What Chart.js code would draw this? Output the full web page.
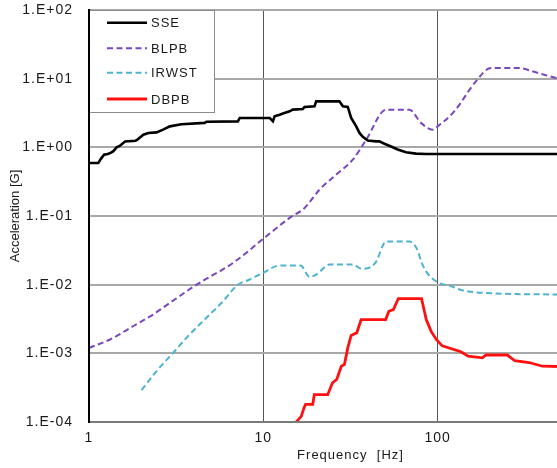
<!DOCTYPE html>
<html>
<head>
<meta charset="utf-8">
<script src="https://cdn.jsdelivr.net/npm/chart.js@4/dist/chart.umd.min.js"></script>
<style>
html,body{margin:0;padding:0;overflow:hidden;background:#fff;}
canvas{display:block;}
</style>
</head>
<body>
<canvas id="c" width="640" height="468"></canvas>
<script>
// ---- data ----
const seriesNames = ['SSE', 'BLPB', 'IRWST', 'DBPB'];

const sseFreq = [1.0,1.13,1.17,1.22,1.28,1.33,1.38,1.44,1.50,1.61,1.85,1.90,2.05,2.19,2.44,2.66,2.91,3.39,4.61,4.72,7.15,7.32,9.95,10.87,11.35,11.6,12.4,13.2,14.15,14.77,16.85,17.24,19.66,20.1,27.3,28.6,30.5,31.9,34.1,35.6,37.2,39.7,44.4,46.3,49.5,54.0,59.0,65.8,75.1,85.7,97.8,500];
const sseAcc  = [0.59,0.59,0.68,0.78,0.80,0.83,0.88,1.00,1.05,1.22,1.25,1.30,1.53,1.62,1.65,1.81,2.02,2.17,2.27,2.36,2.39,2.68,2.68,2.68,2.39,2.83,2.99,3.17,3.34,3.54,3.62,3.87,3.95,4.67,4.67,3.95,3.87,2.68,2.02,1.62,1.42,1.26,1.22,1.22,1.13,1.03,0.93,0.85,0.81,0.80,0.80,0.80];

const blpbFreq = [1.0,1.32,1.79,2.33,2.91,4.14,6.70,10.4,14.15,17.24,21.0,26.2,32.6,38.9,50.6,68.8,80.2,93.5,99.9,124.5,165.7,202,293,349,477,500];
const blpbAcc  = [1.2e-3,1.59e-3,2.48e-3,3.67e-3,5.43e-3,1.0e-2,2.07e-2,5.07e-2,9.38e-2,0.131,0.242,0.401,0.662,1.29,3.54,3.54,2.27,1.81,2.02,3.34,9.14,14.3,14.3,12.8,10.2,9.9];

const irwstFreq = [2.0,2.44,3.04,3.62,4.72,5.75,7.15,8.35,9.95,12.4,16.35,18.41,20.1,23.96,32.6,36.8,43.9,50.6,68.8,76.4,80.5,86.0,93.2,102,116.5,136.5,189.8,500];
const irwstAcc  = [2.9e-4,5.5e-4,1.02e-3,1.68e-3,3.3e-3,5.4e-3,1.0e-2,1.19e-2,1.49e-2,1.9e-2,1.9e-2,1.3e-2,1.4e-2,1.96e-2,1.96e-2,1.7e-2,2.07e-2,4.24e-2,4.24e-2,3.24e-2,2.17e-2,1.55e-2,1.23e-2,1.055e-2,9.7e-3,8.34e-3,7.55e-3,7.18e-3];

const dbpbFreq = [15.45,16.5,17.1,17.47,19.2,19.6,23.4,24.9,26.4,28.0,29.2,30.5,31.9,34.35,36.4,50.3,52.5,55.7,59.5,80.8,86.0,91.9,98.2,106.2,135.9,149.6,180.7,189,251,277,334,398.7,500];
const dbpbAcc  = [1.0e-4,1.21e-4,1.6e-4,1.8e-4,1.8e-4,2.5e-4,2.5e-4,3.7e-4,4.2e-4,6.5e-4,6.9e-4,1.2e-3,1.82e-3,1.99e-3,3.1e-3,3.1e-3,4.1e-3,4.34e-3,6.28e-3,6.28e-3,3.1e-3,2.07e-3,1.59e-3,1.285e-3,1.055e-3,9.07e-4,8.6e-4,9.45e-4,9.45e-4,7.8e-4,7.35e-4,6.49e-4,6.43e-4];

const xTicks = [1, 10, 100, 1000];
const yTicks = [1e-4, 1e-3, 1e-2, 1e-1, 1e0, 1e1, 1e2];
const xTitle = 'Frequency  [Hz]';
const yTitle = 'Acceleration [G]';

function pts(fx, fy) { return fx.map((x, i) => ({x: x, y: fy[i]})); }
function fmtY(v) {
  const e = Math.round(Math.log10(v));
  return '1.E' + (e < 0 ? '-' : '+') + String(Math.abs(e)).padStart(2, '0');
}

const FONT = "'Liberation Sans', Arial, sans-serif";

const spacingPlugin = {
  id: 'spacing',
  beforeDraw(chart) { chart.ctx.letterSpacing = '1px'; },
  afterLayout(chart) {
    const s = chart.scales.y;
    if (s && !s._wrappedTitle) {
      const orig = s.drawTitle.bind(s);
      s.drawTitle = function () {
        const c = this.ctx; const prev = c.letterSpacing;
        c.letterSpacing = '0px'; orig(); c.letterSpacing = prev;
      };
      s._wrappedTitle = true;
    }
  }
};

const legendPlugin = {
  id: 'boxLegend',
  afterDraw(chart) {
    const ctx = chart.ctx;
    const a = chart.chartArea;
    const x0 = a.left, y0 = a.top, w = 125, h = 102;
    ctx.save();
    ctx.fillStyle = '#fff';
    ctx.fillRect(x0, y0, w, h);
    ctx.strokeStyle = '#8c8c8c';
    ctx.lineWidth = 1;
    ctx.strokeRect(x0 + 0.5, y0 + 0.5, w, h);
    ctx.strokeStyle = '#000';
    ctx.lineWidth = 2;
    ctx.beginPath(); ctx.moveTo(x0, y0); ctx.lineTo(x0, y0 + h + 1); ctx.stroke();
    const rows = [12.7, 38.3, 62.7, 89];
    chart.data.datasets.forEach((ds, i) => {
      const yy = y0 + rows[i];
      ctx.strokeStyle = ds.borderColor;
      ctx.lineWidth = ds.borderWidth;
      ctx.setLineDash(ds.borderDash || []);
      ctx.beginPath(); ctx.moveTo(x0 + 18, yy); ctx.lineTo(x0 + 58, yy); ctx.stroke();
      ctx.setLineDash([]);
      ctx.fillStyle = '#1a1a1a';
      ctx.font = '13px ' + FONT;
      ctx.textBaseline = 'middle';
      ctx.textAlign = 'left';
      ctx.fillText(ds.label, x0 + 62, yy + 1);
    });
    ctx.restore();
  }
};

new Chart(document.getElementById('c'), {
  type: 'line',
  data: {
    datasets: [
      {label: seriesNames[0], data: pts(sseFreq, sseAcc), borderColor: '#000000', borderWidth: 2.6, tension: 0},
      {label: seriesNames[1], data: pts(blpbFreq, blpbAcc), borderColor: '#7a46be', borderWidth: 2, borderDash: [6, 3.5], cubicInterpolationMode: 'monotone'},
      {label: seriesNames[2], data: pts(irwstFreq, irwstAcc), borderColor: '#4db3cf', borderWidth: 2, borderDash: [6, 3.5], cubicInterpolationMode: 'monotone'},
      {label: seriesNames[3], data: pts(dbpbFreq, dbpbAcc), borderColor: '#ff1010', borderWidth: 2.8, tension: 0}
    ]
  },
  options: {
    responsive: false,
    animation: false,
    devicePixelRatio: 1,
    layout: {padding: {top: 10, right: 28, bottom: 0, left: 0}},
    elements: {point: {radius: 0}, line: {fill: false, borderCapStyle: 'butt'}},
    plugins: {legend: {display: false}, tooltip: {enabled: false}},
    scales: {
      x: {
        type: 'logarithmic', min: 1, max: 1000,
        afterBuildTicks(s) { s.ticks = xTicks.map(v => ({value: v})); },
        afterFit(s) { s.height = 46; s.paddingLeft = 0; s.paddingRight = 0; },
        ticks: {callback: v => String(v), font: {size: 14, family: FONT}, color: '#1a1a1a', padding: 8, maxRotation: 0, autoSkip: false},
        grid: {color: '#555555', lineWidth: 1, drawTicks: false},
        border: {display: true, color: '#7a7a7a', width: 2, z: 1},
        title: {display: true, text: xTitle, font: {size: 13, family: FONT}, color: '#1a1a1a', padding: {top: 0, bottom: 5}}
      },
      y: {
        type: 'logarithmic', min: 1e-4, max: 1e2,
        afterBuildTicks(s) { s.ticks = yTicks.map(v => ({value: v})); },
        afterFit(s) { s.width = 89; s.paddingTop = 0; s.paddingBottom = 0; },
        ticks: {callback: v => fmtY(v), font: {size: 14, family: FONT}, color: '#1a1a1a', padding: 16, autoSkip: false},
        grid: {color: '#a8a8a8', lineWidth: 2, drawTicks: false},
        border: {display: true, color: '#000000', width: 2, z: 1},
        title: {display: true, text: yTitle, font: {size: 13, family: FONT}, color: '#1a1a1a', padding: {top: 8, bottom: 0}}
      }
    }
  },
  plugins: [spacingPlugin, legendPlugin]
});
</script>
</body>
</html>
